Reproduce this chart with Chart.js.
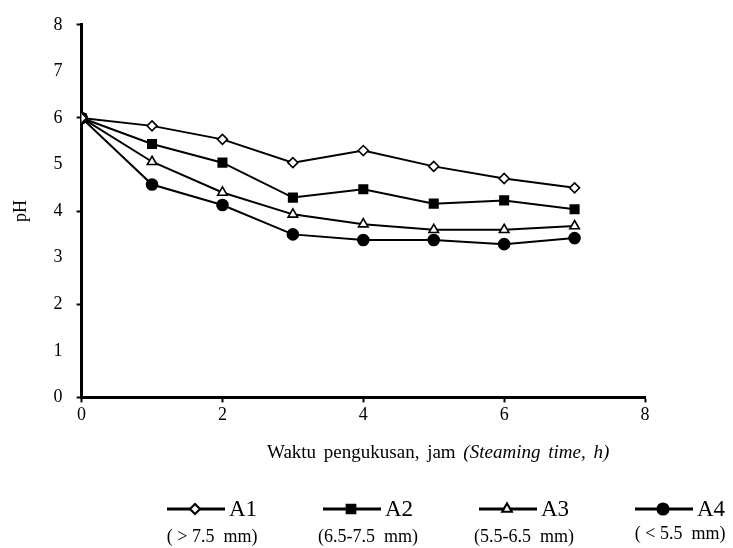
<!DOCTYPE html>
<html lang="id">
<head>
  <meta charset="UTF-8" />
  <title>pH selama pengukusan</title>
  <script src="https://cdn.jsdelivr.net/npm/chart.js"></script>
  <style>
    body { margin: 0; background: #fff; }
    .wrap { width: 733px; height: 548px; position: relative; }
  </style>
</head>
<body>
  <div class="wrap"><canvas id="phChart"></canvas></div>
  <script>
    // data
    const hours = [0, 1, 2, 3, 4, 5, 6, 7];
    const seriesNames = ['A1', 'A2', 'A3', 'A4'];
    const sizeNotes = ['( > 7.5  mm)', '(6.5-7.5  mm)', '(5.5-6.5  mm)', '( < 5.5  mm)'];
    const phA1 = [6.0, 5.83, 5.54, 5.04, 5.30, 4.96, 4.70, 4.50];
    const phA2 = [6.0, 5.44, 5.04, 4.29, 4.47, 4.16, 4.23, 4.04];
    const phA3 = [6.0, 5.06, 4.40, 3.93, 3.72, 3.60, 3.60, 3.68];
    const phA4 = [6.0, 4.57, 4.13, 3.50, 3.38, 3.38, 3.29, 3.42];
    const xTitle = 'Waktu pengukusan, jam';
    const xTitleEn = '(Steaming time, h)';

    const FONT = "'Liberation Serif', 'Times New Roman', serif";

    const markers = [
      { pointStyle: 'rectRot', radius: 5, fill: '#fff' },
      { pointStyle: 'rect', radius: 6, fill: '#000' },
      { pointStyle: 'triangle', radius: 5.5, fill: '#fff' },
      { pointStyle: 'circle', radius: 5.5, fill: '#000' }
    ];

    const datasets = [phA1, phA2, phA3, phA4].map((vals, i) => ({
      label: seriesNames[i],
      data: vals.map((v, j) => ({ x: hours[j], y: v })),
      borderColor: '#000',
      borderWidth: 2,
      pointStyle: markers[i].pointStyle,
      pointRadius: markers[i].radius,
      pointBackgroundColor: markers[i].fill,
      pointBorderColor: '#000',
      pointBorderWidth: 1.6,
      tension: 0
    }));

    // axis title under the x axis + two-line legend at the bottom
    const extras = {
      id: 'extras',
      afterDraw(chart) {
        const ctx = chart.ctx;
        const area = chart.chartArea;
        ctx.save();
        ctx.fillStyle = '#000';
        ctx.textBaseline = 'middle';

        // x title, partly italic
        ctx.wordSpacing = '3px';
        ctx.font = '19px ' + FONT;
        const w1 = ctx.measureText(xTitle + ' ').width;
        const tx = 267;
        const ty = area.bottom + 56;
        ctx.textAlign = 'left';
        ctx.fillText(xTitle + ' ', tx, ty);
        ctx.font = 'italic 19px ' + FONT;
        ctx.fillText(xTitleEn, tx + w1, ty);
        ctx.wordSpacing = '0px';

        // legend
        const starts = [167, 323, 479, 635];
        const rowY = 509;
        chart.data.datasets.forEach((ds, i) => {
          const x0 = starts[i];
          ctx.strokeStyle = '#000';
          ctx.lineWidth = 3;
          ctx.beginPath();
          ctx.moveTo(x0, rowY);
          ctx.lineTo(x0 + 58, rowY);
          ctx.stroke();
          ctx.fillStyle = ds.pointBackgroundColor;
          ctx.lineWidth = 2.2;
          Chart.helpers.drawPoint(ctx, {
            pointStyle: ds.pointStyle,
            radius: ds.pointRadius,
            borderWidth: 2.2
          }, x0 + 28, rowY);
          ctx.fillStyle = '#000';
          ctx.font = '23px ' + FONT;
          ctx.textAlign = 'left';
          ctx.fillText(ds.label, x0 + 62, rowY + 1);
          const groupW = 62 + ctx.measureText(ds.label).width;
          ctx.font = '18px ' + FONT;
          ctx.textAlign = 'center';
          ctx.fillText(sizeNotes[i], x0 + groupW / 2, i === 3 ? 534 : 537);
        });
        ctx.restore();
      }
    };

    new Chart(document.getElementById('phChart'), {
      type: 'line',
      data: { datasets },
      options: {
        responsive: true,
        maintainAspectRatio: false,
        animation: false,
        layout: { padding: { top: 20, right: 88, bottom: 120, left: 10 } },
        plugins: { legend: { display: false }, tooltip: { enabled: false } },
        scales: {
          x: {
            type: 'linear',
            min: 0,
            max: 8,
            border: { color: '#000', width: 3 },
            grid: {
              drawOnChartArea: false,
              tickLength: 5,
              tickColor: '#000',
              tickWidth: 2
            },
            ticks: {
              stepSize: 2,
              color: '#000',
              padding: 2,
              font: { family: FONT, size: 18 }
            }
          },
          y: {
            min: 0,
            max: 8,
            border: { color: '#000', width: 3 },
            grid: {
              drawOnChartArea: false,
              tickLength: 5,
              tickWidth: 2,
              tickColor: c => (c.tick && c.tick.value % 2 === 0) ? '#000' : 'rgba(0,0,0,0)'
            },
            ticks: {
              stepSize: 1,
              color: '#000',
              padding: 14,
              font: { family: FONT, size: 18 }
            },
            title: {
              display: true,
              text: 'pH',
              color: '#000',
              padding: { top: 0, bottom: 8 },
              font: { family: FONT, size: 18 }
            }
          }
        }
      },
      plugins: [extras]
    });
  </script>
</body>
</html>
